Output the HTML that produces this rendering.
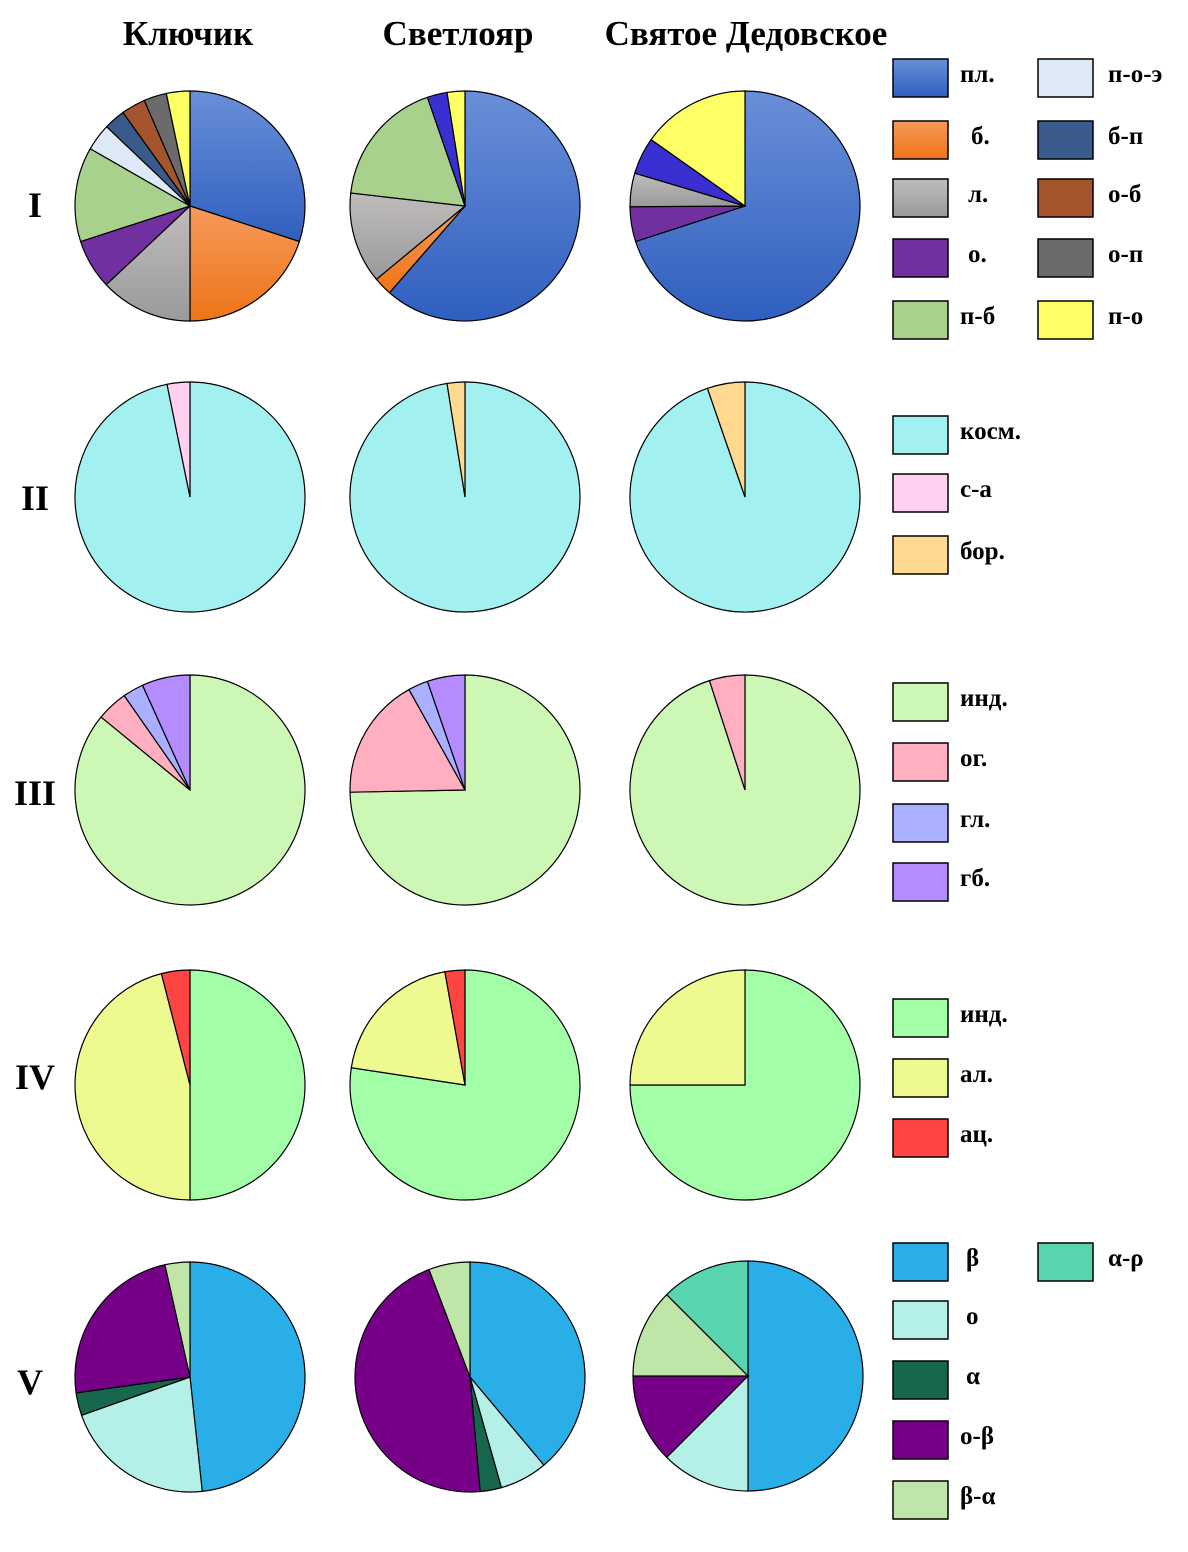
<!DOCTYPE html>
<html><head><meta charset="utf-8">
<style>
body{margin:0;background:#fff;}
svg text{font-family:"Liberation Serif",serif;font-weight:bold;}
</style></head>
<body>
<svg id="c" width="1188" height="1547" viewBox="0 0 1188 1547" xmlns="http://www.w3.org/2000/svg">
<defs>
<linearGradient id="gpl" x1="0" y1="0" x2="0" y2="1"><stop offset="0" stop-color="#6a8fd8"/><stop offset="1" stop-color="#2f5fbf"/></linearGradient>
<linearGradient id="gb" x1="0" y1="0" x2="0" y2="1"><stop offset="0" stop-color="#f79a5a"/><stop offset="1" stop-color="#ee7418"/></linearGradient>
<linearGradient id="gl" x1="0" y1="0" x2="0" y2="1"><stop offset="0" stop-color="#c0bcbc"/><stop offset="1" stop-color="#9a9a9a"/></linearGradient>
</defs>
<text x="188" y="45" font-size="35" text-anchor="middle">Ключик</text>
<text x="458" y="45" font-size="35" text-anchor="middle">Светлояр</text>
<text x="746" y="45" font-size="35" text-anchor="middle">Святое Дедовское</text>
<text x="35" y="217" font-size="36" text-anchor="middle">I</text>
<text x="35" y="510" font-size="36" text-anchor="middle">II</text>
<text x="35" y="805" font-size="36" text-anchor="middle">III</text>
<text x="35" y="1089" font-size="36" text-anchor="middle">IV</text>
<text x="30" y="1394" font-size="36" text-anchor="middle">V</text>
<g id="pies"></g>
<g id="legend"></g>
</svg>
<script>
const catsI = ["пл.","б.","л.","о.","п-б","п-о-э","б-п","о-б","о-п","п-о"];
const colorsI = ["url(#gpl)","url(#gb)","url(#gl)","#7030a0","#a9d18e","#dde9f6","#3a5a8c","#a5552d","#6b6b6b","#ffff66"];
const colorsIalt = ["url(#gpl)","url(#gb)","url(#gl)","#7030a0","#a9d18e","#dde9f6","#3a2fd0","#a5552d","#6b6b6b","#ffff66"];
const klyuchikI = [30,20,13,7,13.3,3.8,3,3.4,3.2,3.3];
const svetloyarI = [61.4,2.6,12.8,0,17.9,0,2.8,0,0,2.5];
const svyatoeI = [70,0,4.7,4.9,0,0,5.2,0,0,15.2];
const orderDefault = [0,1,2,3,4,5,6,7,8,9];
const orderSvyatoeI = [0,1,3,2,4,5,6,7,8,9];

const catsII = ["косм.","с-а","бор."];
const colorsII = ["#a2f0f0","#ffd0f0","#ffd990"];
const klyuchikII = [96.8,3.2,0];
const svetloyarII = [97.5,0,2.5];
const svyatoeII = [94.7,0,5.3];

const catsIII = ["инд.","ог.","гл.","гб."];
const colorsIII = ["#ccf7b4","#ffafc0","#aab0ff","#b48cff"];
const klyuchikIII = [82.5,4.2,2.8,6.5];
const svetloyarIII = [74.7,17.2,2.8,5.3];
const svyatoeIII = [95,5,0,0];

const catsIV = ["инд.","ал.","ац."];
const colorsIV = ["#a2ffa8","#eefa90","#ff4444"];
const klyuchikIV = [50,46,4];
const svetloyarIV = [77.4,19.8,2.8];
const svyatoeIV = [75,25,0];

const catsV = ["β","о","α","о-β","β-α","α-ρ"];
const colorsV = ["#2aaee8","#b4f0e8","#17674e","#760087","#bfe6a8","#58d4b0"];
const klyuchikV = [48.3,21.3,3.2,23.7,3.5,0];
const svetloyarV = [38.9,6.7,3,45.6,5.8,0];
const svyatoeV = [50,12.5,0,12.5,12.5,12.5];

const NS="http://www.w3.org/2000/svg";
const pies=document.getElementById('pies');
const R=115;
function pt(cx,cy,a){return [cx+R*Math.sin(a),cy-R*Math.cos(a)];}
function drawPie(cx,cy,vals,cols,name,order){
  order=order||vals.map((v,i)=>i);
  const tot=vals.reduce((a,b)=>a+b,0);
  let a0=0;
  order.forEach(i=>{
    const v=vals[i];
    if(!(v>0))return;
    const a1=a0+v/tot*2*Math.PI;
    const p=document.createElementNS(NS,'path');
    const [x0,y0]=pt(cx,cy,a0),[x1,y1]=pt(cx,cy,a1);
    let d;
    if(v/tot>=0.9999){d=`M${cx-R},${cy}A${R},${R} 0 1 1 ${cx+R},${cy}A${R},${R} 0 1 1 ${cx-R},${cy}Z`;}
    else d=`M${cx},${cy}L${x0},${y0}A${R},${R} 0 ${a1-a0>Math.PI?1:0} 1 ${x1},${y1}Z`;
    p.setAttribute('d',d);
    p.setAttribute('fill',cols[i]);
    p.setAttribute('stroke','#000');
    p.setAttribute('stroke-width','1.2');
    
    
    pies.appendChild(p);
    a0=a1;
  });
}
const xs=[190,465,745];
drawPie(xs[0],206,klyuchikI,colorsI,'klyuchik-i');
drawPie(xs[1],206,svetloyarI,colorsIalt,'svetloyar-i');
drawPie(xs[2],206,svyatoeI,colorsIalt,'svyatoe-i',orderSvyatoeI);
drawPie(xs[0],497,klyuchikII,colorsII,'klyuchik-ii');
drawPie(xs[1],497,svetloyarII,colorsII,'svetloyar-ii');
drawPie(xs[2],497,svyatoeII,colorsII,'svyatoe-ii');
drawPie(xs[0],790,klyuchikIII,colorsIII,'klyuchik-iii');
drawPie(xs[1],790,svetloyarIII,colorsIII,'svetloyar-iii');
drawPie(xs[2],790,svyatoeIII,colorsIII,'svyatoe-iii');
drawPie(xs[0],1085,klyuchikIV,colorsIV,'klyuchik-iv');
drawPie(xs[1],1085,svetloyarIV,colorsIV,'svetloyar-iv');
drawPie(xs[2],1085,svyatoeIV,colorsIV,'svyatoe-iv');
drawPie(190,1377,klyuchikV,colorsV,'klyuchik-v');
drawPie(470,1377,svetloyarV,colorsV,'svetloyar-v');
drawPie(748,1376,svyatoeV,colorsV,'svyatoe-v');

const leg=document.getElementById('legend');
function legItem(x,y,col,label,tx){
  const r=document.createElementNS(NS,'rect');
  r.setAttribute('x',x);r.setAttribute('y',y-19);r.setAttribute('width',55);r.setAttribute('height',38);
  r.setAttribute('fill',col);r.setAttribute('stroke','#000');r.setAttribute('stroke-width','1.5');
  
  
  leg.appendChild(r);
  const t=document.createElementNS(NS,'text');
  t.setAttribute('x',x+(tx||67));t.setAttribute('y',y+4);t.setAttribute('font-size','25');
  t.textContent=label;
  
  
  leg.appendChild(t);
}
const yI=[78,140,198,258,320];
const txI=[67,78,75,75,67,70,70,70,70,70];
catsI.forEach((c,i)=>{const col=i<5?0:1;legItem(col?1038:893,yI[i%5],colorsI[i],c,txI[i]);});
[435,493,555].forEach((y,i)=>legItem(893,y,colorsII[i],catsII[i]));
[702,762,823,882].forEach((y,i)=>legItem(893,y,colorsIII[i],catsIII[i]));
[1018,1078,1138].forEach((y,i)=>legItem(893,y,colorsIV[i],catsIV[i]));
[1262,1320,1380,1440,1500].forEach((y,i)=>legItem(893,y,colorsV[i],catsV[i],i<3?73:67));
legItem(1038,1262,colorsV[5],catsV[5],70);
</script>
</body></html>
